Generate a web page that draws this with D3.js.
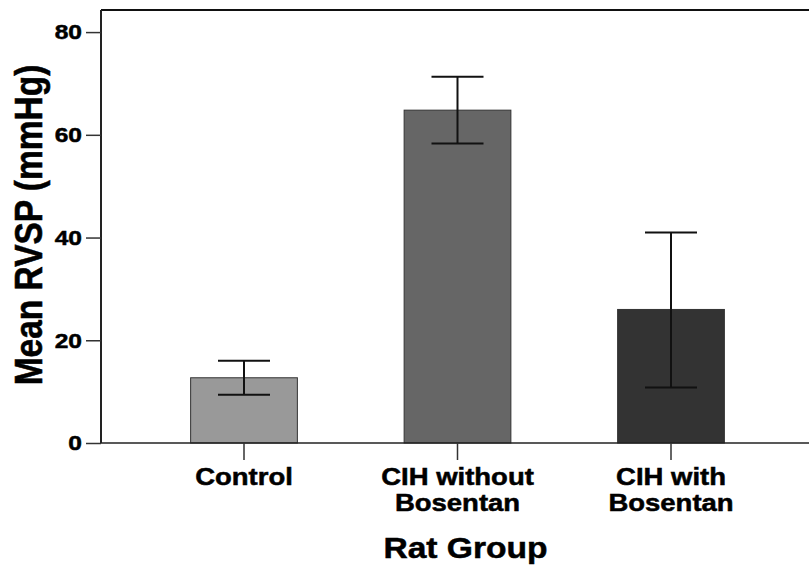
<!DOCTYPE html>
<html>
<head>
<meta charset="utf-8">
<script src="https://cdn.jsdelivr.net/npm/d3@7"></script>
<style>
  body { margin: 0; background: #fff; }
  text { font-family: "Liberation Sans", Arial, sans-serif; font-weight: bold; fill: #000; stroke: #000; stroke-width: 0.5px; }
</style>
</head>
<body>
<svg id="chart" width="809" height="567"></svg>
<script>
// data
const groups = ['Control', 'CIH without Bosentan', 'CIH with Bosentan'];
const groupLines = [['Control'], ['CIH without', 'Bosentan'], ['CIH with', 'Bosentan']];
const means = [12.7, 64.8, 26.0];
const upper = [16.0, 71.3, 41.0];
const lower = [9.4, 58.3, 10.8];
const barColors = ['#999999', '#666666', '#333333'];
const yTicks = [0, 20, 40, 60, 80];

const svg = d3.select('#chart');
const plotLeft = 101, plotTop = 10, plotBottom = 443, plotRight = 809;
const stretch = 1.17;

const y = d3.scaleLinear().domain([0, 84.3]).range([plotBottom, plotTop]);
const x = d3.scaleBand()
  .domain(groups)
  .range([137.25, 777.75])
  .paddingInner(0.5)
  .paddingOuter(0.25);

// frame line on top
svg.append('line')
  .attr('x1', plotLeft).attr('x2', plotRight).attr('y1', plotTop).attr('y2', plotTop)
  .attr('stroke', '#111').attr('stroke-width', 2);

// bars
svg.selectAll('.bar')
  .data(groups)
  .enter().append('rect')
    .attr('class', 'bar')
    .attr('x', d => x(d))
    .attr('y', (d, i) => y(means[i]))
    .attr('width', x.bandwidth())
    .attr('height', (d, i) => y(0) - y(means[i]))
    .attr('fill', (d, i) => barColors[i])
    .attr('stroke', '#333')
    .attr('stroke-width', 1);

// error bars
const cap = 26;
const mid = d => x(d) + x.bandwidth() / 2;
const eb = svg.selectAll('.err')
  .data(groups)
  .enter().append('g')
    .attr('class', 'err')
    .attr('stroke', '#111')
    .attr('stroke-width', 2);
eb.append('line')
  .attr('x1', mid).attr('x2', mid)
  .attr('y1', (d, i) => y(upper[i])).attr('y2', (d, i) => y(lower[i]));
eb.append('line')
  .attr('x1', d => mid(d) - cap).attr('x2', d => mid(d) + cap)
  .attr('y1', (d, i) => y(upper[i])).attr('y2', (d, i) => y(upper[i]));
eb.append('line')
  .attr('x1', d => mid(d) - cap).attr('x2', d => mid(d) + cap)
  .attr('y1', (d, i) => y(lower[i])).attr('y2', (d, i) => y(lower[i]));

// y axis
const yAxis = svg.append('g')
  .attr('transform', 'translate(' + plotLeft + ',0)')
  .call(d3.axisLeft(y).tickValues(yTicks).tickSize(15).tickPadding(4).tickSizeOuter(0));
yAxis.select('.domain').attr('stroke', '#222').attr('stroke-width', 2)
  .attr('d', 'M0,' + plotTop + 'V' + plotBottom);
yAxis.selectAll('.tick line').attr('stroke', '#333').attr('stroke-width', 1.5);
yAxis.selectAll('.tick text')
  .style('font-size', '21px')
  .attr('transform', 'scale(' + stretch + ',1)')
  .attr('x', -19 / stretch);

// x axis
const xAxis = svg.append('g')
  .attr('transform', 'translate(0,' + plotBottom + ')')
  .call(d3.axisBottom(x).tickSize(17).tickSizeOuter(0).tickFormat(''));
xAxis.select('.domain').attr('stroke', '#222').attr('stroke-width', 1.5)
  .attr('d', 'M' + plotLeft + ',0H' + plotRight);
xAxis.selectAll('.tick line').attr('stroke', '#333').attr('stroke-width', 1.5);
xAxis.selectAll('.tick text').remove();
xAxis.selectAll('.tick').each(function (d, i) {
  const t = d3.select(this).append('text')
    .attr('text-anchor', 'middle')
    .attr('transform', 'scale(' + stretch + ',1)')
    .style('font-size', '23.5px');
  groupLines[i].forEach((line, k) => {
    t.append('tspan').attr('x', 0).attr('y', 42 + k * 26.5).text(line);
  });
});

// axis titles
svg.append('text')
  .attr('text-anchor', 'middle')
  .attr('transform', 'translate(465.5,558) scale(1.12,1)')
  .style('font-size', '30px')
  .text('Rat Group');

svg.append('text')
  .attr('text-anchor', 'middle')
  .attr('transform', 'translate(42,225) rotate(-90) scale(1,1.17)')
  .style('font-size', '33.5px')
  .text('Mean RVSP (mmHg)');
</script>
</body>
</html>
